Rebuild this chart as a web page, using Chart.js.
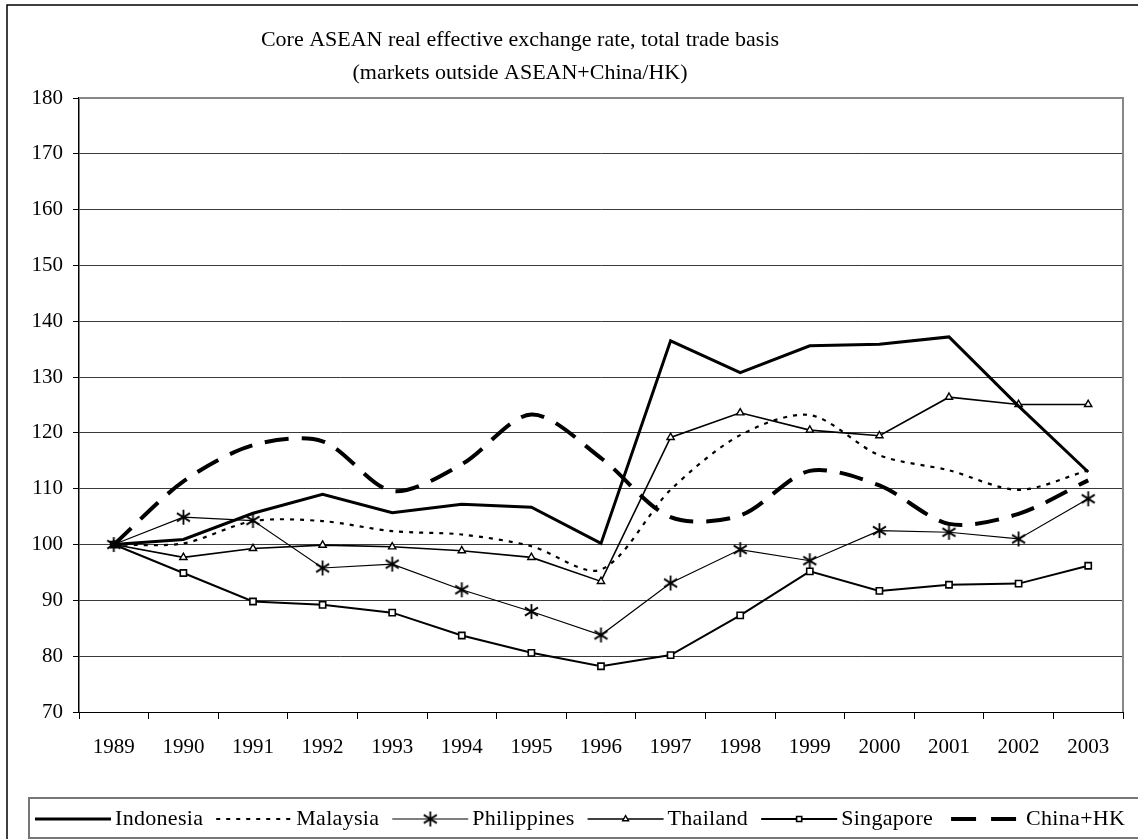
<!DOCTYPE html>
<html>
<head>
<meta charset="utf-8">
<title>Core ASEAN real effective exchange rate</title>
<script src="https://cdn.jsdelivr.net/npm/chart.js@4.4.1/dist/chart.umd.min.js"></script>
<style>
  html, body { margin: 0; padding: 0; background: #fff; }
  #wrap { width: 1138px; height: 839px; position: relative; }
</style>
</head>
<body>
<div id="wrap"><canvas id="reer-chart"></canvas></div>
<script>
// 数据
const years = ['1989', '1990', '1991', '1992', '1993', '1994', '1995', '1996', '1997', '1998', '1999', '2000', '2001', '2002', '2003'];
const indonesia = [100, 100.9, 105.6, 109.0, 105.7, 107.2, 106.7, 100.2, 136.5, 130.8, 135.6, 135.9, 137.2, 124.8, 113.0];
const malaysia = [100, 100.2, 104.2, 104.2, 102.4, 101.8, 99.7, 95.5, 109.8, 119.6, 123.2, 116.0, 113.3, 109.8, 113.3];
const philippines = [100, 104.9, 104.3, 95.8, 96.5, 91.9, 88.0, 83.8, 93.1, 99.1, 97.1, 102.5, 102.2, 101.0, 108.2];
const thailand = [100, 97.7, 99.3, 99.9, 99.6, 98.9, 97.7, 93.4, 119.2, 123.6, 120.5, 119.5, 126.4, 125.1, 125.1];
const singapore = [100, 94.9, 89.8, 89.2, 87.8, 83.7, 80.6, 78.2, 80.2, 87.3, 95.2, 91.7, 92.8, 93.0, 96.2];
const chinaHK = [100, 111.3, 117.8, 118.5, 109.6, 114.4, 123.3, 115.5, 104.9, 105.2, 113.2, 110.6, 103.7, 105.5, 111.5];
const yTicks = { min: 70, max: 180, step: 10 };
const titleLines = ['Core ASEAN real effective exchange rate, total trade basis', '(markets outside ASEAN+China/HK)'];

const SERIF = '"Liberation Serif", "Times New Roman", serif';
Chart.defaults.font.family = SERIF;
Chart.defaults.color = '#000';

/**
 * 星号标记 (X + 竖线)
 */
function makeAsterisk(size) {
  const c = document.createElement('canvas');
  c.width = size;
  c.height = size;
  const g = c.getContext('2d');
  const m = size / 2;
  const r = size / 2 - 1;
  g.strokeStyle = '#000';
  g.lineWidth = 1.8;
  g.beginPath();
  g.moveTo(m, m - r); g.lineTo(m, m + r);
  g.moveTo(m - r * 0.87, m - r * 0.55); g.lineTo(m + r * 0.87, m + r * 0.55);
  g.moveTo(m - r * 0.87, m + r * 0.55); g.lineTo(m + r * 0.87, m - r * 0.55);
  g.stroke();
  return c;
}
const asterisk = makeAsterisk(17);

// 背景、外框、标题和图例
const framePlugin = {
  id: 'frame',
  beforeDraw(chart) {
    const ctx = chart.ctx;
    ctx.save();
    ctx.fillStyle = '#fff';
    ctx.fillRect(0, 0, chart.width, chart.height);
    ctx.strokeStyle = '#000';
    ctx.lineWidth = 1.5;
    ctx.beginPath();
    ctx.moveTo(7, chart.height + 2);
    ctx.lineTo(7, 5);
    ctx.lineTo(chart.width + 2, 5);
    ctx.stroke();
    ctx.restore();
  },
  beforeDatasetsDraw(chart) {
    // 绘图区上边和右边的灰色边框
    const a = chart.chartArea;
    const ctx = chart.ctx;
    ctx.save();
    ctx.strokeStyle = '#888';
    ctx.lineWidth = 2;
    ctx.beginPath();
    ctx.moveTo(a.left, a.top);
    ctx.lineTo(a.right, a.top);
    ctx.lineTo(a.right, a.bottom);
    ctx.stroke();
    ctx.restore();
  },
  afterDraw(chart) {
    const ctx = chart.ctx;
    ctx.save();
    // 标题
    ctx.fillStyle = '#000';
    ctx.font = '22px ' + SERIF;
    ctx.textAlign = 'center';
    ctx.textBaseline = 'alphabetic';
    ctx.fillText(titleLines[0], 520, 46);
    ctx.fillText(titleLines[1], 520, 79);

    // 图例框
    ctx.strokeStyle = '#777';
    ctx.lineWidth = 2;
    ctx.strokeRect(29, 798, chart.width, 40);

    // 图例项
    ctx.font = '22px ' + SERIF;
    if ('letterSpacing' in ctx) ctx.letterSpacing = '0.3px';
    ctx.textAlign = 'left';
    ctx.textBaseline = 'middle';
    const yMid = 819;
    let x = 35;
    chart.data.datasets.forEach(ds => {
      ctx.save();
      ctx.strokeStyle = ds.borderColor;
      ctx.lineWidth = ds.borderWidth;
      ctx.beginPath();
      if (ds.borderDash && ds.borderDash[0] > 10) {
        // 长虚线：两段
        ctx.moveTo(x + 5, yMid); ctx.lineTo(x + 30, yMid);
        ctx.moveTo(x + 45, yMid); ctx.lineTo(x + 70, yMid);
      } else {
        ctx.setLineDash(ds.borderDash || []);
        ctx.moveTo(x, yMid);
        ctx.lineTo(x + 76, yMid);
      }
      ctx.stroke();
      ctx.setLineDash([]);
      if (ds.pointRadius > 0) {
        const px = x + 38;
        if (ds.pointStyle instanceof HTMLCanvasElement) {
          ctx.drawImage(ds.pointStyle, px - ds.pointStyle.width / 2, yMid - ds.pointStyle.height / 2);
        } else if (Chart.helpers && Chart.helpers.drawPoint) {
          ctx.fillStyle = ds.pointBackgroundColor;
          ctx.strokeStyle = ds.pointBorderColor;
          ctx.lineWidth = ds.pointBorderWidth;
          Chart.helpers.drawPoint(ctx, { pointStyle: ds.pointStyle, radius: ds.pointRadius - 0.8, rotation: 0, borderWidth: ds.pointBorderWidth }, px, yMid);
        }
      }
      ctx.restore();
      x += 80;
      ctx.fillText(ds.label, x, yMid);
      x += ctx.measureText(ds.label).width + 13;
    });
    ctx.restore();
  }
};

const ctx = document.getElementById('reer-chart');
new Chart(ctx, {
  type: 'line',
  data: {
    labels: years,
    datasets: [
      {
        label: 'Indonesia',
        data: indonesia,
        borderColor: '#000',
        borderWidth: 3,
        pointRadius: 0,
        tension: 0
      },
      {
        label: 'Malaysia',
        data: malaysia,
        borderColor: '#000',
        borderWidth: 2.2,
        borderDash: [4, 6],
        pointRadius: 0,
        tension: 0.3
      },
      {
        label: 'Philippines',
        data: philippines,
        borderColor: '#000',
        borderWidth: 1.2,
        pointStyle: asterisk,
        pointRadius: 8,
        tension: 0
      },
      {
        label: 'Thailand',
        data: thailand,
        borderColor: '#000',
        borderWidth: 1.6,
        pointStyle: 'triangle',
        pointRadius: 4.2,
        pointBackgroundColor: '#fff',
        pointBorderColor: '#000',
        pointBorderWidth: 1.4,
        tension: 0
      },
      {
        label: 'Singapore',
        data: singapore,
        borderColor: '#000',
        borderWidth: 2,
        pointStyle: 'rect',
        pointRadius: 4.4,
        pointBackgroundColor: '#fff',
        pointBorderColor: '#000',
        pointBorderWidth: 1.6,
        tension: 0
      },
      {
        label: 'China+HK',
        data: chinaHK,
        borderColor: '#000',
        borderWidth: 4,
        borderDash: [24, 13],
        pointRadius: 0,
        tension: 0.3
      }
    ]
  },
  options: {
    responsive: true,
    maintainAspectRatio: false,
    animation: false,
    layout: {
      padding: { top: 98, right: 15, bottom: 77, left: 0 }
    },
    plugins: {
      legend: { display: false },
      title: { display: false },
      tooltip: { enabled: false }
    },
    elements: {
      line: { fill: false }
    },
    scales: {
      x: {
        type: 'category',
        offset: true,
        grid: {
          offset: true,
          drawOnChartArea: false,
          drawTicks: true,
          tickLength: 7,
          tickColor: '#000'
        },
        border: { display: true, color: '#000', width: 1 },
        ticks: {
          color: '#000',
          font: { size: 21 },
          padding: 16,
          maxRotation: 0,
          autoSkip: false
        },
        afterFit(scale) { scale.height = 50; }
      },
      y: {
        min: yTicks.min,
        max: yTicks.max,
        grid: {
          color: '#3a3a3a',
          lineWidth: 1,
          drawTicks: true,
          tickLength: 6,
          tickColor: '#000'
        },
        border: { display: true, color: '#000', width: 1.5 },
        ticks: {
          stepSize: yTicks.step,
          color: '#000',
          font: { size: 21 },
          padding: 10
        },
        afterFit(scale) { scale.width = 79; }
      }
    }
  },
  plugins: [framePlugin]
});
</script>
</body>
</html>
